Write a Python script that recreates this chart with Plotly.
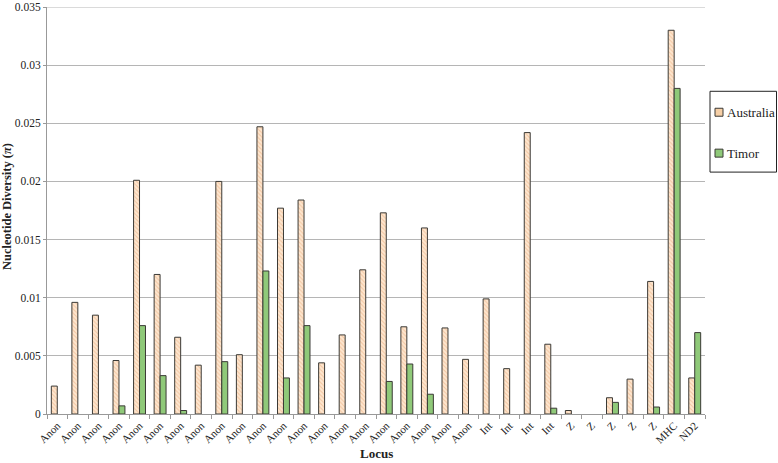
import plotly.graph_objects as go

loci = ["Anon"] * 21 + ["Int"] * 4 + ["Z"] * 5 + ["MHC", "ND2"]
australia = [0.0024, 0.0096, 0.0085, 0.0046, 0.0201, 0.0120, 0.0066, 0.0042,
             0.0200, 0.0051, 0.0247, 0.0177, 0.0184, 0.0044, 0.0068, 0.0124,
             0.0173, 0.0075, 0.0160, 0.0074, 0.0047, 0.0099, 0.0039, 0.0242,
             0.0060, 0.0003, 0.0, 0.0014, 0.0030, 0.0114, 0.0330, 0.0031]
timor = [0.0, 0.0, 0.0, 0.0007, 0.0076, 0.0033, 0.0003, 0.0,
         0.0045, 0.0, 0.0123, 0.0031, 0.0076, 0.0, 0.0, 0.0,
         0.0028, 0.0043, 0.0017, 0.0, 0.0, 0.0, 0.0, 0.0,
         0.0005, 0.0, 0.0, 0.0010, 0.0, 0.0006, 0.0280, 0.0070]
y_ticks = [0, 0.005, 0.01, 0.015, 0.02, 0.025, 0.03, 0.035]
y_ticktext = ["0", "0.005", "0.01", "0.015", "0.02", "0.025", "0.03", "0.035"]
series_names = ["Australia", "Timor"]

W, H = 778, 463
ML, MR, MT, MB = 47, 73, 6.5, 48.5
PW, PH = W - ML - MR, H - MT - MB


def px(xp):
    return (xp - ML) / PW


def py(yp):
    return (H - MB - yp) / PH


def nz(vals):
    # zero-height bars are not drawn in the reference
    return [v if v else None for v in vals]


x = list(range(len(loci)))
font = "Liberation Serif, Times New Roman, serif"
outline = "#3b3a36"
aus_marker = dict(color="#fbdcbc", line=dict(color=outline, width=1),
                  pattern=dict(shape="\\", fgcolor="#eaa978", bgcolor="#fde6cf",
                               size=3, solidity=0.35))
tim_marker = dict(color="#8fc979", line=dict(color=outline, width=1))

fig = go.Figure()
fig.add_trace(go.Bar(x=x, y=nz(australia), name=series_names[0], marker=aus_marker))
fig.add_trace(go.Bar(x=x, y=nz(timor), name=series_names[1], marker=tim_marker))

shapes = [
    dict(type="line", xref="paper", yref="y", x0=0, x1=1, y0=0.035, y1=0.035,
         line=dict(color="#b5b5b5", width=1), layer="below"),
    dict(type="rect", xref="paper", yref="paper",
         x0=px(710), x1=px(776.5), y0=py(91), y1=py(172),
         line=dict(color="#222222", width=1), fillcolor="white"),
    dict(type="rect", xref="paper", yref="paper",
         x0=px(715), x1=px(723), y0=py(108), y1=py(116),
         line=dict(color=outline, width=1), fillcolor="#f6cfa6"),
    dict(type="rect", xref="paper", yref="paper",
         x0=px(715), x1=px(723), y0=py(149), y1=py(157),
         line=dict(color=outline, width=1), fillcolor="#8fc979"),
]

annotations = [
    dict(text=series_names[0], xref="paper", yref="paper", x=px(724.5), y=py(112),
         xanchor="left", yanchor="middle", showarrow=False,
         font=dict(size=13, family=font, color="#222222")),
    dict(text=series_names[1], xref="paper", yref="paper", x=px(724.5), y=py(153),
         xanchor="left", yanchor="middle", showarrow=False,
         font=dict(size=13, family=font, color="#222222")),
    dict(text="<b>Locus</b>", xref="paper", yref="paper", x=0.5, y=py(454),
         xanchor="center", yanchor="middle", showarrow=False,
         font=dict(size=13, family=font, color="#222222")),
    dict(text="<b>Nucleotide Diversity (<i>π</i>)</b>", xref="paper", yref="paper",
         x=px(7), y=py(207), xanchor="center", yanchor="middle", textangle=-90,
         showarrow=False, font=dict(size=12.5, family=font, color="#222222")),
]

fig.update_layout(
    width=W, height=H,
    margin=dict(l=ML, r=MR, t=MT, b=MB, autoexpand=False),
    paper_bgcolor="white", plot_bgcolor="white",
    barmode="group", bargap=0.42, bargroupgap=0,
    font=dict(family=font, color="#222222"),
    showlegend=False,
    shapes=shapes, annotations=annotations,
    xaxis=dict(
        range=[-0.5, len(loci) - 0.5],
        tickmode="array", tickvals=x, ticktext=loci, ticks="",
        tickangle=-45, tickfont=dict(size=11, family=font),
        showline=True, linecolor="#999999", linewidth=1,
        showgrid=False, zeroline=False,
        minor=dict(tickvals=[i - 0.5 for i in range(len(loci) + 1)],
                   ticks="outside", ticklen=4, tickcolor="#999999", showgrid=False),
        automargin=False,
    ),
    yaxis=dict(
        range=[0, 0.035], tickmode="array", tickvals=y_ticks, ticktext=y_ticktext,
        ticks="outside", ticklen=3, tickcolor="#999999",
        tickfont=dict(size=11.5, family=font), ticklabeloverflow="allow",
        showline=True, linecolor="#999999", linewidth=1,
        showgrid=True, gridcolor="#b5b5b5", gridwidth=1, zeroline=False,
        automargin=False,
    ),
)

fig.write_html("out.html", config={"displayModeBar": False},
               post_script="document.body.style.margin='0';")
